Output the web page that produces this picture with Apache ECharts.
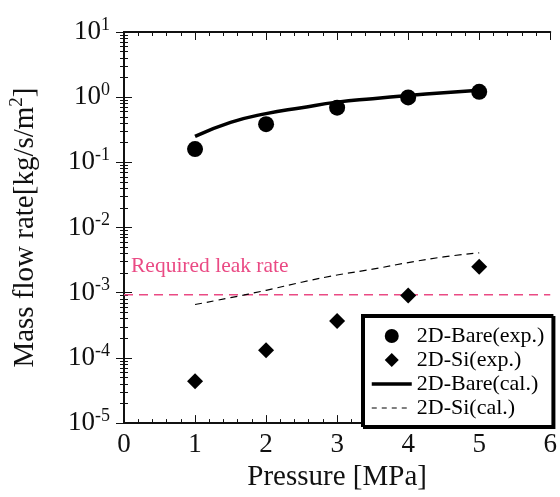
<!DOCTYPE html>
<html>
<head>
<meta charset="utf-8">
<script src="https://cdn.jsdelivr.net/npm/echarts@6/dist/echarts.min.js"></script>
<style>
  html, body { margin: 0; padding: 0; background: #fff; }
  #chart { width: 560px; height: 497px; }
</style>
</head>
<body>
<div id="chart"></div>
<script>
  // measured points
  const pressure = [1, 2, 3, 4, 5]
  const bareExp = [0.16, 0.385, 0.69, 0.99, 1.21]
  const siExp = [4.4e-5, 1.31e-4, 3.7e-4, 9.1e-4, 2.5e-3]
  // calculated curves
  const calPressure = [1, 1.5, 2, 2.5, 3, 3.5, 4, 4.5, 5]
  const bareCal = [0.25, 0.41, 0.56, 0.69, 0.84, 0.95, 1.06, 1.17, 1.28]
  const siCal = [6.6e-4, 8.4e-4, 1.09e-3, 1.45e-3, 1.87e-3, 2.3e-3, 2.9e-3, 3.55e-3, 4.1e-3]
  // required leak rate line
  const leakX = [0, 6]
  const leakRate = 9.3e-4

  const zip = (xs, ys) => xs.map((x, i) => [x, ys[i]])
  const serif = 'Liberation Serif'

  let chart = echarts.init(document.getElementById('chart'))

  const xBase = {
    type: 'value',
    min: 0,
    max: 6,
    interval: 1,
    axisLine: { onZero: false, lineStyle: { color: '#111', width: 2 } },
    axisTick: { inside: true, length: 8, lineStyle: { color: '#111', width: 1 } },
    minorTick: { show: true, splitNumber: 5, length: 4, lineStyle: { color: '#111' } },
    splitLine: { show: false }
  }
  const yBase = {
    type: 'log',
    logBase: 10,
    min: 1e-5,
    max: 10,
    splitNumber: 6,
    axisLine: { lineStyle: { color: '#111', width: 2 } },
    axisTick: { inside: true, length: 8, lineStyle: { color: '#111', width: 1 } },
    minorTick: { show: true, splitNumber: 9, length: 4, lineStyle: { color: '#111' } },
    splitLine: { show: false }
  }

  chart.setOption({
    animation: false,
    textStyle: { fontFamily: serif },
    grid: { left: 123, right: 8, top: 32, bottom: 69 },
    graphic: [{
      type: 'text',
      left: 131,
      top: 255,
      style: { text: 'Required leak rate', font: '21.5px "Liberation Serif"', fill: '#ea4a84' }
    }],
    legend: {
      orient: 'vertical',
      left: 362,
      top: 315,
      align: 'left',
      padding: [10, 8, 7, 8],
      itemWidth: 40,
      itemHeight: 14,
      itemGap: 2,
      symbolKeepAspect: true,
      backgroundColor: '#fff',
      borderColor: '#000',
      borderWidth: 2,
      shadowColor: '#000',
      shadowOffsetX: 2,
      shadowOffsetY: 2,
      shadowBlur: 0,
      textStyle: { fontFamily: serif, fontSize: 22, color: '#000' },
      data: [
        { name: '2D-Bare(exp.)' },
        { name: '2D-Si(exp.)', icon: 'path://M5,0L10,5L5,10L0,5Z' },
        { name: '2D-Bare(cal.)', itemStyle: { opacity: 0 }, lineStyle: { width: 3.5, color: '#000' } },
        { name: '2D-Si(cal.)', itemStyle: { opacity: 0 }, lineStyle: { width: 1, color: '#000', type: [5, 5] } }
      ]
    },
    xAxis: [
      Object.assign({}, xBase, {
        position: 'bottom',
        name: 'Pressure [MPa]',
        nameLocation: 'middle',
        nameGap: 36,
        nameTextStyle: { fontFamily: serif, fontSize: 29, color: '#111' },
        axisLabel: { margin: 8, fontFamily: serif, fontSize: 27, color: '#111' }
      }),
      Object.assign({}, xBase, { position: 'top', axisLabel: { show: false } })
    ],
    yAxis: [
      Object.assign({}, yBase, {
        position: 'left',
        name: '{a|Mass flow rate[kg/s/m}{s|2}{a|]}',
        nameLocation: 'middle',
        nameGap: 82,
        nameTextStyle: {
          rich: {
            a: { fontFamily: serif, fontSize: 29, color: '#111' },
            s: { fontFamily: serif, fontSize: 19, color: '#111', padding: [0, 0, 15, 0] }
          }
        },
        axisLabel: {
          margin: 14,
          formatter: function (v) {
            const e = Math.round(Math.log10(v))
            return '{b|10}{s|' + e + '}'
          },
          rich: {
            b: { fontFamily: serif, fontSize: 27, color: '#111' },
            s: { fontFamily: serif, fontSize: 18, color: '#111', padding: [0, 0, 14, 0] }
          }
        }
      }),
      Object.assign({}, yBase, { position: 'right', axisLabel: { show: false } })
    ],
    series: [
      {
        name: 'Required leak rate',
        type: 'line',
        data: leakX.map(x => [x, leakRate]),
        symbol: 'none',
        lineStyle: { color: '#ea4a84', width: 1.5, type: [9, 6] },
        z: 1
      },
      {
        name: '2D-Bare(cal.)',
        type: 'line',
        data: zip(calPressure, bareCal),
        smooth: true,
        symbol: 'none',
        color: '#000',
        lineStyle: { color: '#000', width: 3.5 }
      },
      {
        name: '2D-Si(cal.)',
        type: 'line',
        data: zip(calPressure, siCal),
        smooth: true,
        symbol: 'none',
        color: '#000',
        lineStyle: { color: '#000', width: 1.2, type: [7, 5] }
      },
      {
        name: '2D-Bare(exp.)',
        type: 'scatter',
        data: zip(pressure, bareExp),
        symbol: 'circle',
        symbolSize: 16,
        itemStyle: { color: '#000', opacity: 1 }
      },
      {
        name: '2D-Si(exp.)',
        type: 'scatter',
        data: zip(pressure, siExp),
        symbol: 'diamond',
        symbolSize: 16,
        itemStyle: { color: '#000', opacity: 1 }
      }
    ]
  })
</script>
</body>
</html>
